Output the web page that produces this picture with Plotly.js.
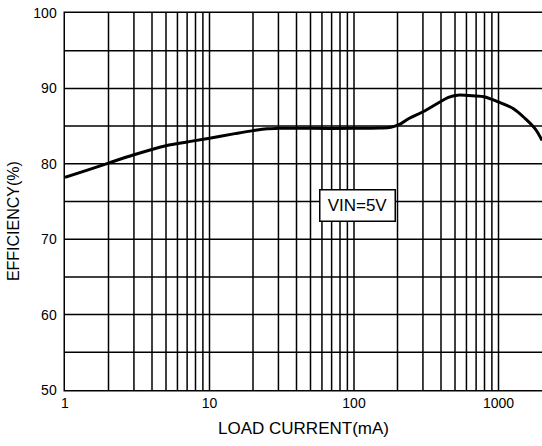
<!DOCTYPE html>
<html>
<head>
<meta charset="utf-8">
<script src="https://cdn.plot.ly/plotly-3.0.1.min.js"></script>
<style>
html,body{margin:0;padding:0;background:#fff;}
#chart{width:542px;height:446px;}
#chart .gridlayer path, #chart .xlines-above, #chart .ylines-above, #chart path.xlines-above, #chart path.ylines-above{shape-rendering:auto !important;}
</style>
</head>
<body>
<div id="chart"></div>
<script>
// Data
const loadCurrent = [1, 1.5, 2, 3, 5, 7, 10, 15, 20, 25, 30, 50, 100, 150, 180, 210, 240, 300, 385, 450, 520, 620, 790, 1000, 1270, 1530, 1800, 2000];
const efficiency  = [78.2, 79.3, 80.1, 81.2, 82.4, 82.9, 83.4, 84.0, 84.4, 84.65, 84.7, 84.7, 84.7, 84.75, 84.85, 85.3, 86.0, 86.9, 88.1, 88.8, 89.1, 89.05, 88.9, 88.2, 87.3, 86.0, 84.6, 83.1];

const xTickVals = [1,2,3,4,5,6,7,8,9,10,20,30,40,50,60,70,80,90,100,200,300,400,500,600,700,800,900,1000];
const xTickText = xTickVals.map(v => ([1,10,100,1000].includes(v) ? String(v) : ''));
const yTickVals = [50,55,60,65,70,75,80,85,90,95,100];
const yTickText = yTickVals.map(v => (v % 10 === 0 ? String(v) : ''));

const xTitle = 'LOAD CURRENT(mA)';
const yTitle = 'EFFICIENCY(%)';
const annotationText = 'VIN=5V';
const annotationX = 105;
const annotationY = 74.5;

const font = 'Liberation Sans, Arial, sans-serif';

Plotly.newPlot('chart', [{
  x: loadCurrent,
  y: efficiency,
  type: 'scatter',
  mode: 'lines',
  line: {color: '#000', width: 3, shape: 'spline'},
  hoverinfo: 'skip'
}], {
  width: 542,
  height: 446,
  margin: {l: 65, r: 0, t: 13, b: 56, pad: 0},
  paper_bgcolor: '#fff',
  plot_bgcolor: '#fff',
  showlegend: false,
  font: {family: font, color: '#000', size: 14},
  xaxis: {
    type: 'log',
    range: [0, Math.log10(2000)],
    tickvals: xTickVals,
    ticktext: xTickText,
    ticks: '',
    showgrid: true,
    gridcolor: '#000',
    gridwidth: 1.5,
    showline: true,
    linecolor: '#000',
    linewidth: 1.5,
    mirror: true,
    zeroline: false,
    tickfont: {family: font, size: 14, color: '#000'},
    title: {text: xTitle, font: {family: font, size: 17, color: '#000'}, standoff: 12}
  },
  yaxis: {
    range: [50, 100],
    tickvals: yTickVals,
    ticktext: yTickText,
    ticks: '',
    ticklabelstandoff: 4,
    showgrid: true,
    gridcolor: '#000',
    gridwidth: 1.5,
    showline: true,
    linecolor: '#000',
    linewidth: 1.5,
    mirror: true,
    zeroline: false,
    tickfont: {family: font, size: 14, color: '#000'}
  },
  annotations: [{
    x: Math.log10(annotationX),
    y: annotationY,
    xref: 'x', yref: 'y',
    text: annotationText,
    showarrow: false,
    font: {family: font, size: 17, color: '#000'},
    bgcolor: '#fff',
    bordercolor: '#000',
    borderwidth: 1.5,
    borderpad: 5,
    width: 64,
    height: 20
  }, {
    x: -0.109,
    y: 0.448,
    xref: 'paper', yref: 'paper',
    xanchor: 'center', yanchor: 'middle',
    text: yTitle,
    textangle: -90,
    showarrow: false,
    font: {family: font, size: 16, color: '#000'}
  }]
}, {displayModeBar: false, staticPlot: true});
</script>
</body>
</html>
